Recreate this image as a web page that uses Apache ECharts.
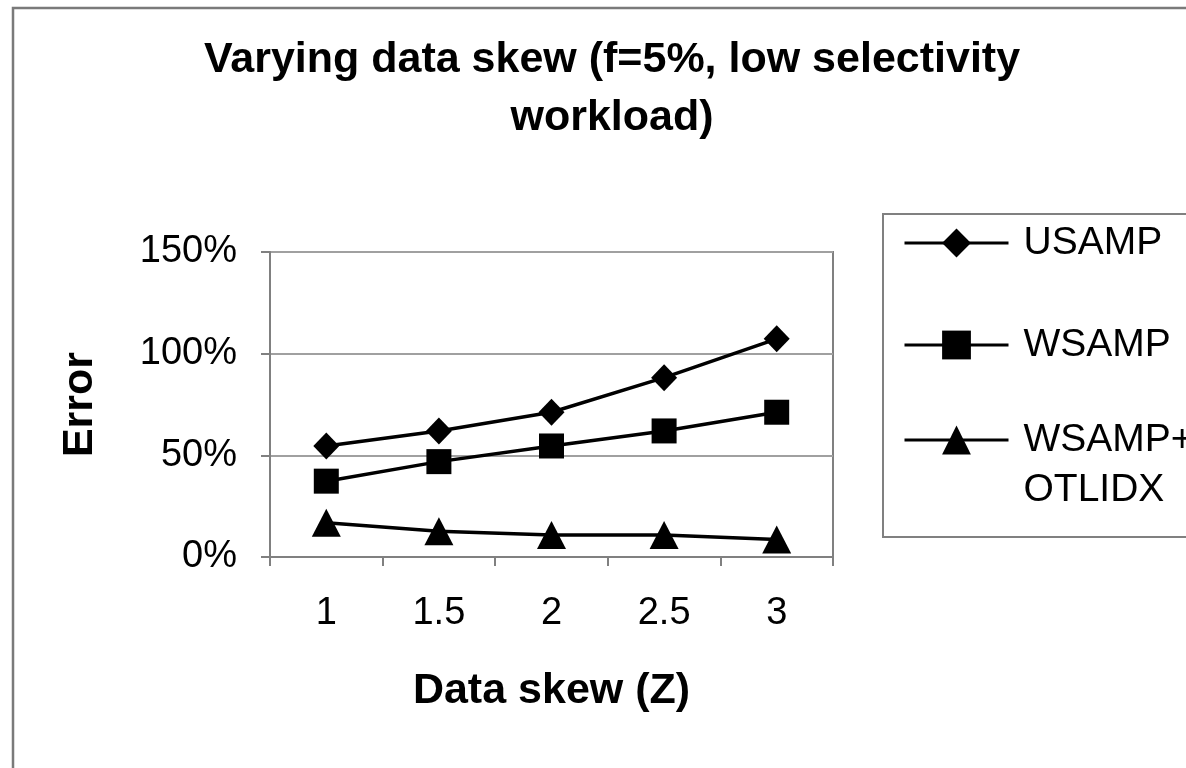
<!DOCTYPE html>
<html>
<head>
<meta charset="utf-8">
<script src="https://cdn.jsdelivr.net/npm/echarts@6/dist/echarts.min.js"></script>
<style>
html,body{margin:0;padding:0;background:#fff;}
#c{width:1186px;height:768px;}
</style>
</head>
<body>
<div id="c"></div>
<script>
var categories = ['1', '1.5', '2', '2.5', '3'];
var usamp = [54.6, 62, 71.2, 88.2, 107.3];
var wsamp = [37.3, 46.9, 54.6, 62, 71.2];
var wsampOtlidx = [16.9, 12.7, 10.8, 10.8, 8.6];
var yTicks = { min: 0, max: 150, interval: 50 };

var FONT = '"Liberation Sans", Arial, Helvetica, sans-serif';
var chart = echarts.init(document.getElementById('c'));

function legendCfg(name, top, lines) {
  return {
    data: [name],
    left: 903,
    top: top,
    orient: 'vertical',
    padding: 0,
    itemWidth: 104,
    itemHeight: 36,
    selectedMode: false,
    lineStyle: { width: 3, color: '#000' },
    formatter: function (n) { return n === 'WSAMP+OTLIDX' ? '\nWSAMP+\nOTLIDX' : n; },
    textStyle: {
      fontFamily: FONT,
      fontSize: 39,
      color: '#000',
      lineHeight: lines > 1 ? 50 : 40,
      padding: [0, 0, 0, 10]
    }
  };
}

chart.setOption({
  backgroundColor: '#fff',
  animation: false,
  title: {
    text: 'Varying data skew (f=5%, low selectivity\nworkload)',
    left: 612,
    top: 31,
    textAlign: 'center',
    padding: 0,
    textStyle: {
      fontFamily: FONT,
      fontSize: 43,
      fontWeight: 'bold',
      color: '#000',
      lineHeight: 58
    }
  },
  graphic: [
    {
      type: 'rect',
      shape: { x: 13, y: 8, width: 1250, height: 820 },
      style: { fill: 'none', stroke: '#7a7a7a', lineWidth: 2.5 },
      silent: true
    },
    {
      type: 'rect',
      shape: { x: 883, y: 214, width: 400, height: 323 },
      style: { fill: 'none', stroke: '#808080', lineWidth: 2 },
      silent: true
    }
  ],
  legend: [
    legendCfg('USAMP', 223, 1),
    legendCfg('WSAMP', 325, 1),
    legendCfg('WSAMP+OTLIDX', 365, 2)
  ],
  grid: {
    left: 270,
    right: 353,
    top: 252,
    bottom: 211,
    show: true,
    borderColor: '#808080',
    borderWidth: 2,
    backgroundColor: 'transparent'
  },
  xAxis: {
    type: 'category',
    data: categories,
    boundaryGap: true,
    name: 'Data skew (Z)',
    nameLocation: 'middle',
    nameGap: 113,
    nameTextStyle: { fontFamily: FONT, fontSize: 43, fontWeight: 'bold', color: '#000' },
    axisLine: { lineStyle: { color: '#808080', width: 2 } },
    axisTick: { show: true, length: 9, lineStyle: { color: '#808080', width: 2 } },
    axisLabel: { margin: 38, fontFamily: FONT, fontSize: 38, color: '#000' },
    splitLine: { show: false }
  },
  yAxis: {
    type: 'value',
    min: yTicks.min,
    max: yTicks.max,
    interval: yTicks.interval,
    name: 'Error',
    nameLocation: 'middle',
    nameRotate: 90,
    nameGap: 168,
    nameTextStyle: { fontFamily: FONT, fontSize: 43, fontWeight: 'bold', color: '#000' },
    axisLine: { show: true, lineStyle: { color: '#808080', width: 2 } },
    axisTick: { show: true, length: 9, lineStyle: { color: '#808080', width: 2 } },
    axisLabel: { margin: 33, fontFamily: FONT, fontSize: 38, color: '#000', formatter: '{value}%' },
    splitLine: { show: true, lineStyle: { color: '#a0a0a0', width: 2 } }
  },
  series: [
    {
      name: 'USAMP', type: 'line', data: usamp,
      symbol: 'diamond', symbolSize: [26, 27],
      lineStyle: { color: '#000', width: 3.5 },
      itemStyle: { color: '#000' }
    },
    {
      name: 'WSAMP', type: 'line', data: wsamp,
      symbol: 'rect', symbolSize: 25,
      lineStyle: { color: '#000', width: 3.5 },
      itemStyle: { color: '#000' }
    },
    {
      name: 'WSAMP+OTLIDX', type: 'line', data: wsampOtlidx,
      symbol: 'triangle', symbolSize: [29, 28],
      lineStyle: { color: '#000', width: 3.5 },
      itemStyle: { color: '#000' }
    }
  ]
});
</script>
</body>
</html>
